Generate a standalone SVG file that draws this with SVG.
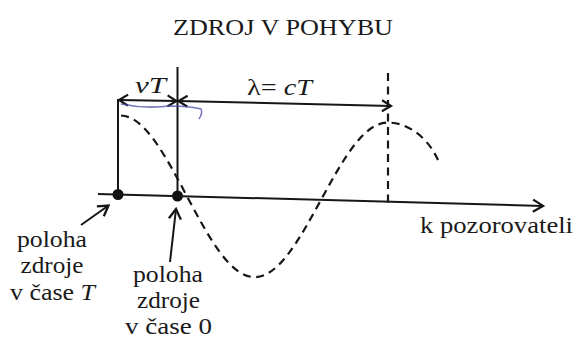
<svg xmlns="http://www.w3.org/2000/svg" width="576" height="338" viewBox="0 0 576 338">
<style>
text{font-family:"Liberation Serif","Times New Roman",serif;font-size:23px;fill:#1a1a1a}
.it{font-style:italic}
.ln{stroke:#161616;stroke-width:2;fill:none}
.dash{stroke:#161616;stroke-width:2.2;fill:none;stroke-dasharray:8 5.5}
.dot{fill:#111}
</style>
<defs>
<marker id="ah" viewBox="-13 -8 16 16" refX="0" refY="0" markerWidth="16" markerHeight="16" markerUnits="userSpaceOnUse" orient="auto-start-reverse">
<path d="M-10,-6 L0,0 L-10,6" fill="none" stroke="#161616" stroke-width="2.3"/>
</marker>
<marker id="ahs" viewBox="-13 -8 16 16" refX="0" refY="0" markerWidth="16" markerHeight="16" markerUnits="userSpaceOnUse" orient="auto-start-reverse">
<path d="M-9,-5.5 L0,0 L-9,5.5" fill="none" stroke="#161616" stroke-width="2.2"/>
</marker>
</defs>
<rect width="576" height="338" fill="#fff"/>
<g id="title"><text x="173" y="34.5" textLength="220" lengthAdjust="spacingAndGlyphs">ZDROJ V POHYBU</text></g>
<g id="wave">
<path class="dash" transform="matrix(1,0.027,0,1,0,-4.78)" d="M121,117 C144.3,117 165.2,155.6 187,196 C208.8,236.4 229.7,275 254,275 C278.3,275 299.2,236.4 321,196 C342.8,155.6 363.7,117 388,117 C402,116 425,125 438,153"/>
<line class="dash" x1="388" y1="73" x2="388" y2="203"/>
</g>
<g id="source-T">
<line class="ln" x1="118" y1="99" x2="118" y2="195"/>
<circle class="dot" cx="118" cy="194.5" r="5.5"/>
<text x="52" y="247" text-anchor="middle" textLength="70" lengthAdjust="spacingAndGlyphs">poloha</text>
<text x="52" y="273" text-anchor="middle" textLength="63" lengthAdjust="spacingAndGlyphs">zdroje</text>
<text x="52.5" y="299.5" text-anchor="middle" textLength="85" lengthAdjust="spacingAndGlyphs">v čase <tspan class="it">T</tspan></text>
</g>
<g id="source-0">
<line class="ln" x1="177.5" y1="67" x2="177.5" y2="196"/>
<circle class="dot" cx="177.5" cy="196" r="5.5"/>
<text x="168" y="282" text-anchor="middle" textLength="70" lengthAdjust="spacingAndGlyphs">poloha</text>
<text x="168.5" y="308" text-anchor="middle" textLength="63" lengthAdjust="spacingAndGlyphs">zdroje</text>
<text x="168.5" y="333.5" text-anchor="middle" textLength="87" lengthAdjust="spacingAndGlyphs">v čase 0</text>
</g>
<g id="observer"><text x="420" y="233" textLength="153" lengthAdjust="spacingAndGlyphs">k pozorovateli</text></g>
<g id="connectors">
<line class="ln" x1="98" y1="193.9" x2="543" y2="205.9" stroke-width="2.2" marker-end="url(#ah)"/>
<line class="ln" x1="119" y1="100" x2="176.5" y2="101" marker-start="url(#ahs)" marker-end="url(#ahs)"/>
<line class="ln" x1="178.5" y1="101" x2="391" y2="106" marker-start="url(#ahs)" marker-end="url(#ahs)"/>
<line class="ln" x1="81" y1="225" x2="108.5" y2="205.5" stroke-width="2.3" marker-end="url(#ah)"/>
<line class="ln" x1="170" y1="262" x2="176" y2="209" stroke-width="2.3" marker-end="url(#ah)"/>
<path d="M121,104 Q145,109 170,106 Q190,106 201,109 Q203,113 199,119" fill="none" stroke="#4a4aa8" stroke-width="1.5" opacity="0.75"/>
</g>
<g id="dim-labels">
<text x="135" y="93" class="it" textLength="31" lengthAdjust="spacingAndGlyphs">vT</text>
<text x="247" y="95" textLength="65" lengthAdjust="spacingAndGlyphs">λ= <tspan class="it">cT</tspan></text>
</g>
</svg>
